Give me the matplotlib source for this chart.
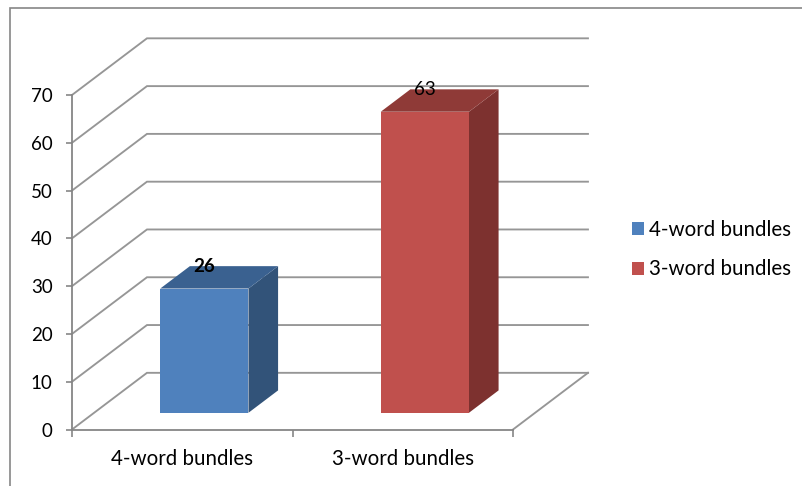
import matplotlib
matplotlib.use("Agg")
import matplotlib.pyplot as plt
from matplotlib.patches import Polygon, Patch, Rectangle

# ── Data ───────────────────────────────────────────────
categories = ["4-word bundles", "3-word bundles"]
values = [26, 63]
y_ticks = [0, 10, 20, 30, 40, 50, 60, 70]
bar_colors = ["#4F81BD", "#C0504D"]
top_colors = ["#3A6190", "#8F3A37"]
side_colors = ["#325379", "#7D312F"]
label_weights = ["bold", "normal"]

# ── Style ──────────────────────────────────────────────
plt.rcParams["font.family"] = ["Lato", "DejaVu Sans"]
AXIS_GREY = "#868686"
GRID_GREY = "#969696"
NUM_SIZE = 13.5
TEXT_SIZE = 14.8
W, H = 802, 486

# oblique projection: how far the back wall sits from the front plane
DEPTH_X = 0.34    # category units
DEPTH_Y = 11.86   # value units
BAR_WIDTH = 0.4
BAR_NEAR, BAR_FAR = 0.295, 0.69  # bar extent along the depth axis


def project(x, y, depth):
    return x + depth * DEPTH_X, y + depth * DEPTH_Y


fig = plt.figure(figsize=(W / 100, H / 100), dpi=100)
ax = fig.add_axes([72 / W, 1 - 429.5 / H, (513 - 72) / W, (429.5 - 95) / H])
ax.set_xlim(0, len(categories))
ax.set_ylim(0, max(y_ticks))
ax.patch.set_visible(False)
for side in ("top", "right"):
    ax.spines[side].set_visible(False)
for side in ("left", "bottom"):
    ax.spines[side].set_color(AXIS_GREY)
    ax.spines[side].set_linewidth(1.3)

# outer chart frame
fig.add_artist(Rectangle((10 / W, -0.1), 1, 1.1 - 7.5 / H, transform=fig.transFigure,
                         fill=False, edgecolor=AXIS_GREY, linewidth=1.2))

# ── Walls ──────────────────────────────────────────────
right = len(categories)
for v in y_ticks:
    bx, by = project(0, v, 1)
    ax.plot([0, bx, project(right, v, 1)[0]], [v, by, by], color=GRID_GREY,
            linewidth=1.35, clip_on=False, zorder=1, solid_joinstyle="miter")
fx, fy = project(right, 0, 1)
ax.plot([right, fx], [0, fy], color=GRID_GREY, linewidth=1.35, clip_on=False, zorder=1)

# ── Bars ───────────────────────────────────────────────
for i, val in enumerate(values):
    x0 = i + 0.5 - BAR_WIDTH / 2
    x1 = i + 0.5 + BAR_WIDTH / 2
    front = [project(x0, 0, BAR_NEAR), project(x1, 0, BAR_NEAR),
             project(x1, val, BAR_NEAR), project(x0, val, BAR_NEAR)]
    side = [project(x1, 0, BAR_NEAR), project(x1, 0, BAR_FAR),
            project(x1, val, BAR_FAR), project(x1, val, BAR_NEAR)]
    top = [project(x0, val, BAR_NEAR), project(x1, val, BAR_NEAR),
           project(x1, val, BAR_FAR), project(x0, val, BAR_FAR)]
    for pts, col in ((side, side_colors[i]), (top, top_colors[i]), (front, bar_colors[i])):
        ax.add_patch(Polygon(pts, closed=True, facecolor=col, edgecolor="none",
                             clip_on=False, zorder=3))
    ax.annotate(str(val), project(i + 0.5, val, BAR_NEAR), xytext=(0, 16),
                textcoords="offset points", ha="center", va="center", fontsize=NUM_SIZE,
                fontweight=label_weights[i], color="black", zorder=4, annotation_clip=False)

# ── Axes text ──────────────────────────────────────────
ax.set_yticks(y_ticks)
ax.set_xticks(range(len(categories) + 1))
ax.set_xticklabels([""] * (len(categories) + 1))
ax.tick_params(axis="y", length=4, width=1.2, color=AXIS_GREY, labelsize=NUM_SIZE, pad=10)
ax.tick_params(axis="x", length=5, width=1.2, color=AXIS_GREY)
for i, name in enumerate(categories):
    ax.annotate(name, (i + 0.5, 0), xytext=(0, -21.2), textcoords="offset points",
                ha="center", va="center", fontsize=TEXT_SIZE, color="black", annotation_clip=False)

handles = [Patch(facecolor=c, label=n) for c, n in zip(bar_colors, categories)]
fig.legend(handles=handles, loc="center left", bbox_to_anchor=(628 / W, 1 - 249.5 / H),
           frameon=False, fontsize=TEXT_SIZE, handlelength=0.58, handleheight=0.58,
           handletextpad=0.24, labelspacing=0.97, borderpad=0.2, borderaxespad=0)

fig.savefig("out.png", dpi=100)
